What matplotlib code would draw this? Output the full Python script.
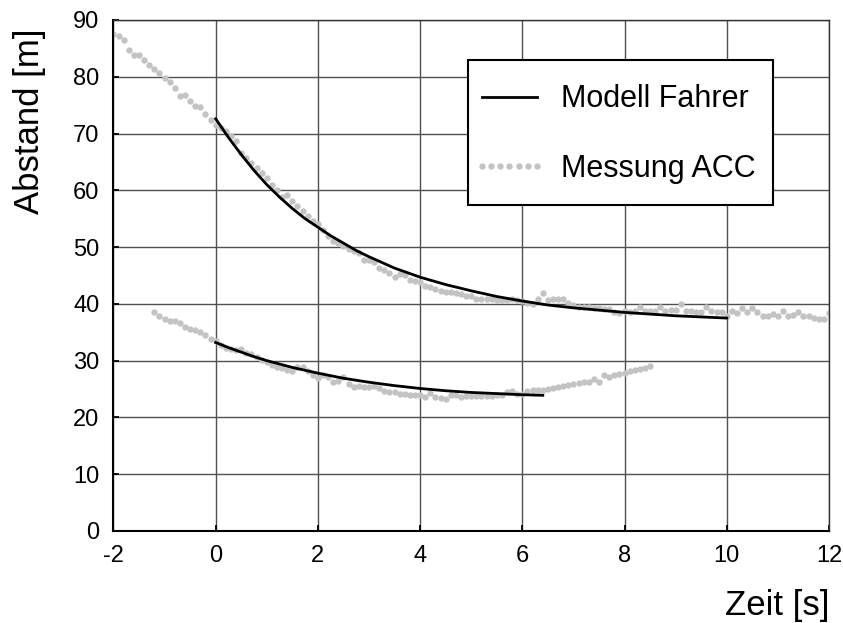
#!/usr/bin/env python
import numpy as np
import matplotlib
matplotlib.use('Agg')
import matplotlib.pyplot as plt
from matplotlib.patches import Rectangle

#measured distance, ACC vehicle, two approach manoeuvres (sampled every 0.1 s)
t_mess_1 = np.round(np.arange(-2.0, 12.01, 0.1), 1)
d_mess_1 = [87.6, 87.1, 86.4, 84.7, 83.8, 83.8, 82.9, 82.0, 81.4, 80.6,
            79.7, 79.0, 78.0, 76.6, 76.8, 75.8, 74.9, 74.6, 73.4, 72.3,
            71.5, 70.9, 70.4, 69.5, 68.6, 66.6, 65.7, 64.8, 63.9, 63.1,
            62.2, 60.9, 60.0, 58.9, 59.1, 58.1, 57.2, 56.4, 55.4, 54.6,
            54.0, 53.1, 51.9, 51.1, 50.8, 50.2, 49.6, 49.3, 49.0, 47.8,
            47.7, 47.3, 46.4, 45.9, 45.5, 44.8, 45.2, 45.0, 44.2, 44.0,
            43.8, 43.1, 42.9, 42.6, 42.3, 42.1,
            42.1, 41.9, 41.7, 41.4, 41.4, 40.8, 40.9, 40.8, 40.8, 40.7,
            40.7, 40.7, 40.8, 40.7, 40.5, 40.2, 39.9, 40.8, 41.9, 40.7,
            40.9, 40.9, 40.9, 40.2, 39.8, 39.5, 39.4, 39.4, 39.2, 39.2,
            39.1, 39.1, 38.5, 38.4, 38.8, 38.6, 38.8, 39.5, 38.8, 38.8,
            38.8, 39.5, 38.8, 38.9, 38.9, 39.9, 38.8, 38.8, 38.5, 38.6,
            39.4, 38.8, 38.6, 38.5, 37.8, 38.8, 38.4, 39.2, 38.5, 39.2,
            38.6, 37.9, 37.9, 38.3, 37.9, 38.8, 37.8, 38.0, 38.5, 37.9,
            37.8, 37.6, 37.3, 37.4, 38.4]

t_mess_2 = np.round(np.arange(-1.2, 8.51, 0.1), 1)
d_mess_2 = [38.5, 37.9, 37.4, 37.0, 37.0, 36.6, 35.9, 35.6, 35.4, 35.0,
            34.5, 33.9, 33.5, 32.8, 32.3, 32.1, 31.9, 32.1, 31.4, 31.2,
            30.6, 30.2, 29.8, 29.2, 28.9, 28.7, 28.4, 28.1, 28.8, 28.8,
            28.1, 27.5, 26.9, 27.5, 27.1, 26.2, 26.5, 27.1, 25.9, 25.3,
            25.6, 25.3, 25.3, 25.5, 25.2, 24.6, 24.5,
            24.5, 24.2, 24.2, 24.0, 23.9, 23.9, 23.6, 24.3, 23.6, 23.4,
            23.3, 23.9, 23.9, 23.6, 23.8, 23.7, 23.7, 23.8, 23.8, 23.8,
            23.9, 23.9, 24.5, 24.6, 24.2, 24.2, 24.7, 24.9, 24.9, 24.9,
            25.0, 25.2, 25.3, 25.5, 25.7, 25.9, 26.1, 26.2, 26.3, 26.8,
            26.3, 27.4, 27.1, 27.5, 27.7, 27.8, 28.1, 28.3, 28.6, 28.7,
            29.0]

#driver model response
t_mod_1 = [0.0, 0.25, 0.5, 0.75, 1.0, 1.25, 1.5, 1.75, 2.0, 2.25, 2.5, 2.75,
           3.0, 3.5, 4.0, 4.5, 5.0, 5.5, 6.0, 6.5, 7.0, 7.5, 8.0, 8.5, 9.0,
           9.5, 10.0]
d_mod_1 = [72.6, 69.3, 66.3, 63.5, 61.0, 58.8, 56.8, 55.0, 53.5, 52.0, 50.7, 49.4,
           48.3, 46.3, 44.7, 43.4, 42.3, 41.3, 40.5, 39.8, 39.3, 38.9, 38.5, 38.2, 37.9,
           37.7, 37.5]

t_mod_2 = [0.0, 0.25, 0.5, 0.75, 1.0, 1.5, 2.0, 2.5, 3.0, 3.5, 4.0, 4.5, 5.0, 5.5,
           6.0, 6.4]
d_mod_2 = [33.2, 32.3, 31.5, 30.7, 30.0, 28.8, 27.8, 26.9, 26.2, 25.6, 25.1, 24.7,
           24.4, 24.2, 24.0, 23.9]

xticks = [-2, 0, 2, 4, 6, 8, 10, 12]
yticks = [0, 10, 20, 30, 40, 50, 60, 70, 80, 90]


def make_plot():
	plt.rcParams['font.family'] = ['Liberation Sans', 'DejaVu Sans']
	plotfontsize = 17
	fig = plt.figure(figsize=(8.43, 6.23), dpi=100)
	ax = fig.add_axes([0.1346, 0.1477, 0.8488, 0.8202])

	grey = '#c3c3c3'
	ax.plot(t_mess_1, d_mess_1, linestyle='none', marker='o', markersize=4.6,
	        markeredgewidth=0, color=grey, zorder=2, label='Messung ACC')
	ax.plot(t_mess_2, d_mess_2, linestyle='none', marker='o', markersize=4.6,
	        markeredgewidth=0, color=grey, zorder=2)
	ax.plot(t_mod_1, d_mod_1, color='black', linewidth=2.0, zorder=3,
	        solid_joinstyle='round', label='Modell Fahrer')
	ax.plot(t_mod_2, d_mod_2, color='black', linewidth=2.0, zorder=3,
	        solid_joinstyle='round')

	#axes limits, grid and ticks
	ax.axis([-2, 12, 0, 90])
	ax.set_xticks(xticks)
	ax.set_yticks(yticks)
	ax.set_xticklabels([str(v) for v in xticks])
	ax.grid(True, color='#505050', linewidth=1.0, zorder=1)
	ax.set_axisbelow(True)
	ax.tick_params(direction='in', length=4, width=1.3, labelsize=plotfontsize)
	ax.tick_params(axis='x', pad=10)
	ax.tick_params(axis='y', pad=10)
	for side in ['left', 'bottom']:
		ax.spines[side].set_linewidth(1.5)
	for side in ['top', 'right']:
		ax.spines[side].set_linewidth(1.0)
		ax.spines[side].set_color('#303030')

	ax.set_xlabel('Zeit [s]', fontsize=25, loc='right')
	ax.xaxis.set_label_coords(1.0, -0.113)
	ax.set_ylabel('Abstand [m]', fontsize=25)
	ax.yaxis.set_label_coords(-0.094, 0.802)

	#legend: fixed white box, entries placed inside it without their own frame
	ax.add_patch(Rectangle((0.4955, 0.638), 0.4262, 0.2837, transform=ax.transAxes,
	                       facecolor='white', edgecolor='black', linewidth=1.5, zorder=4))
	handles, labels = ax.get_legend_handles_labels()
	ax.legend(handles[::-1], labels[::-1], loc='upper left',
	          bbox_to_anchor=(0.5022, 0.8738), borderaxespad=0, borderpad=0,
	          numpoints=7, handlelength=2.4, handletextpad=0.47,
	          labelspacing=1.28, frameon=False, prop={'size': 22})

	plt.savefig('out.png', dpi=100)


if __name__ == "__main__":
	make_plot()
